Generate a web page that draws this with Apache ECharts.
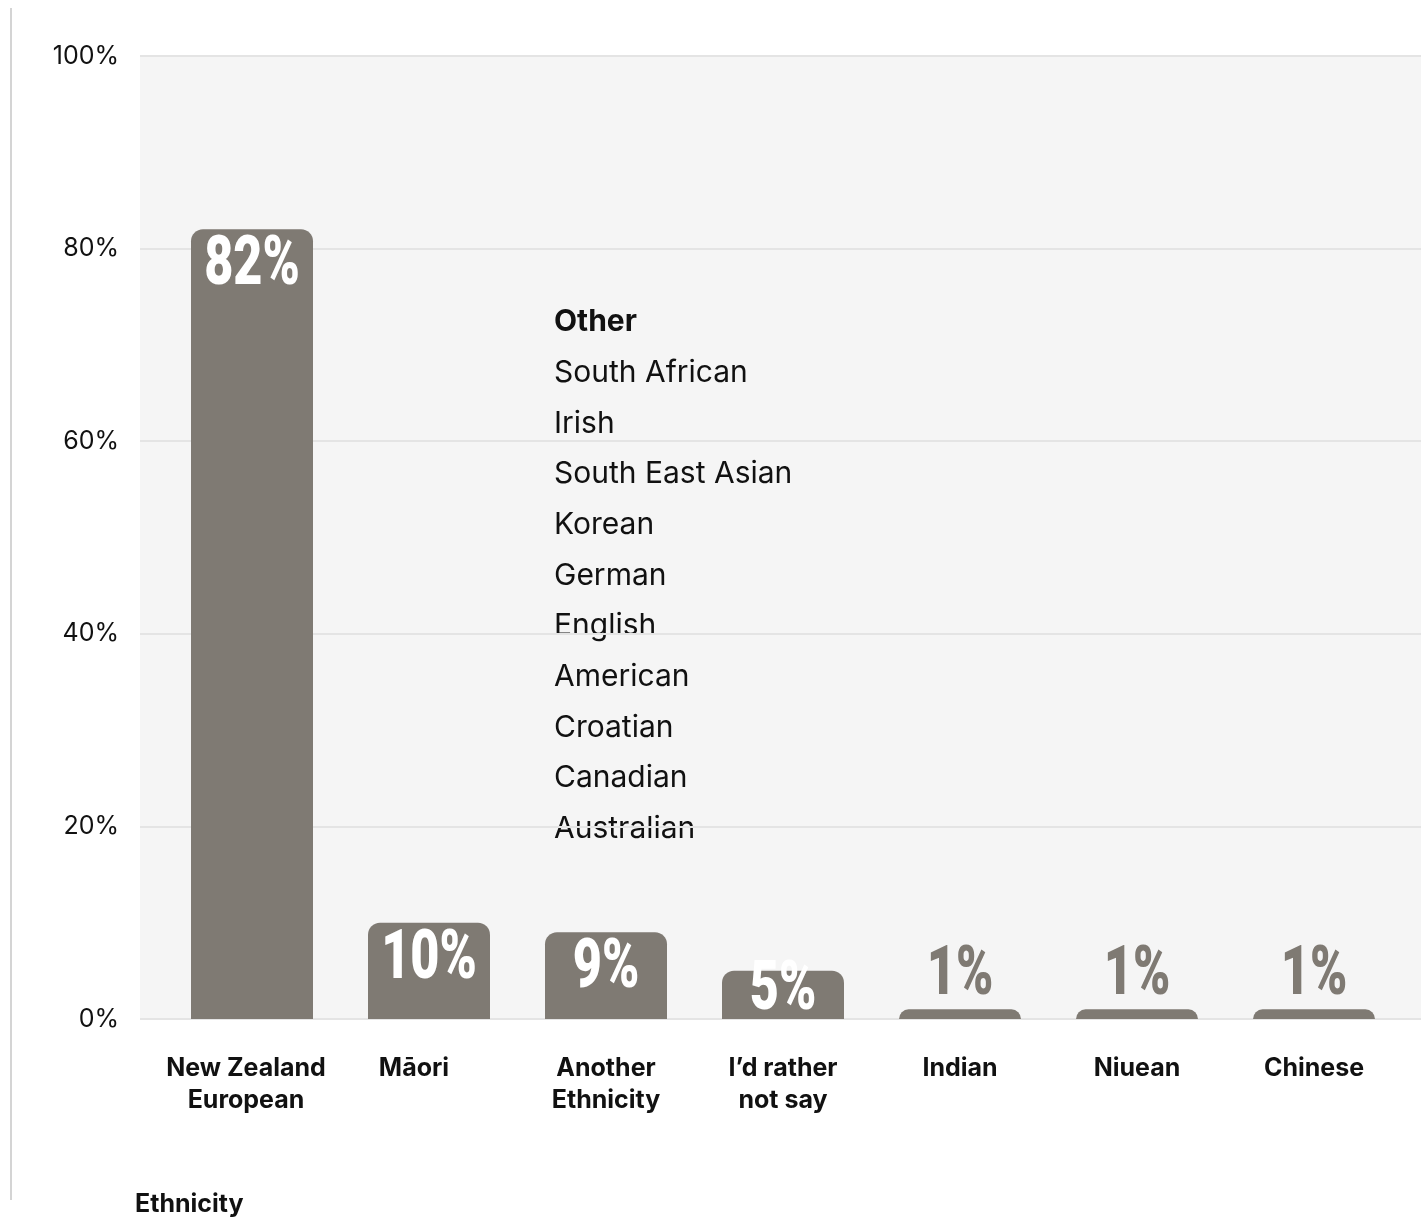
<!DOCTYPE html>
<html>
<head>
<meta charset="utf-8">
<script src="https://cdn.jsdelivr.net/npm/echarts@6/dist/echarts.min.js"></script>
<style>
  html, body { margin: 0; padding: 0; background: #ffffff; }
  #chart { width: 1421px; height: 1218px; }
</style>
</head>
<body>
<div id="chart"></div>
<script>
// Ethnicity breakdown (share of respondents, %)
const categories = ['New Zealand\nEuropean', 'Māori', 'Another\nEthnicity', 'I’d rather\nnot say', 'Indian', 'Niuean', 'Chinese'];
const shares = [82, 10, 9, 5, 1, 1, 1];
const yTicks = [0, 20, 40, 60, 80, 100];
const otherTitle = 'Other';
const otherGroups = ['South African', 'Irish', 'South East Asian', 'Korean', 'German', 'English', 'American', 'Croatian', 'Canadian', 'Australian'];

const BAR = '#7f7a73';
const TEXT = '#111111';
const SANS = 'Inter, "Noto Sans", sans-serif';
const VALUE_FONT = '900 68px Roboto, "Noto Sans", sans-serif';

const chart = echarts.init(document.getElementById('chart'), null, { renderer: 'canvas' });

const otherText = [
  { type: 'text', left: 554, top: 320 - 13, style: { text: otherTitle, font: 'bold 30px ' + SANS, fill: TEXT } }
].concat(otherGroups.map((g, i) => ({
  type: 'text', left: 554, top: 371 + i * 50.65 - 13,
  style: { text: g, font: '30px ' + SANS, fill: TEXT }
})));

// Condensed value labels: tall bars get a white label under the top edge,
// mid-size bars a white label sitting on the baseline, tiny bars a label above.
function renderValueLabel(params, api) {
  const v = api.value(1);
  const top = api.coord([api.value(0), v]);
  const base = api.coord([api.value(0), 0]);
  let y, fill;
  if (v >= 9) {
    y = top[1] + 38; fill = '#ffffff';
  } else if (v >= 3) {
    y = base[1] - 27; fill = '#ffffff';
  } else {
    y = top[1] - 32; fill = BAR;
  }
  return {
    type: 'text',
    x: top[0], y: y,
    scaleX: 0.74,
    style: { text: v + '%', font: VALUE_FONT, fill: fill, align: 'center', verticalAlign: 'middle' }
  };
}

const labelRich = { a: { padding: [0, 12, 0, 0] }, b: { padding: [0, 30, 0, 0] }, n: {} };
const labelTag = ['a', 'b', 'n', 'n', 'n', 'n', 'n'];

chart.setOption({
  animation: false,
  backgroundColor: '#ffffff',
  grid: [
    // background panel + horizontal rules
    { left: 140, right: 0, top: 56, bottom: 199, show: true, backgroundColor: '#f5f5f5', borderWidth: 0 },
    // bars
    { left: 163.5, right: 18.5, top: 56, bottom: 199 }
  ],
  xAxis: [
    { type: 'value', gridIndex: 0, show: false, min: 0, max: 1 },
    {
      type: 'category', gridIndex: 1, data: categories,
      axisLine: { show: false }, axisTick: { show: false },
      axisLabel: {
        interval: 0, margin: 33, color: TEXT, fontFamily: SANS,
        fontWeight: 'bold', fontSize: 25, lineHeight: 32,
        formatter: (val, idx) => val.split('\n').map(s => '{' + labelTag[idx] + '|' + s + '}').join('\n'),
        rich: labelRich
      }
    }
  ],
  yAxis: [
    {
      type: 'value', gridIndex: 0, min: yTicks[0], max: yTicks[yTicks.length - 1], interval: 20,
      axisLine: { show: false }, axisTick: { show: false },
      axisLabel: { margin: 21, color: TEXT, fontFamily: SANS, fontSize: 25, formatter: '{value}%' },
      splitLine: { lineStyle: { color: '#e4e4e4', width: 2 } }
    },
    { type: 'value', gridIndex: 1, min: 0, max: 100, show: false, splitLine: { show: false } }
  ],
  series: [
    {
      type: 'bar', xAxisIndex: 1, yAxisIndex: 1,
      data: shares, barWidth: 122,
      itemStyle: { color: BAR, borderRadius: [12, 12, 0, 0] }
    },
    {
      type: 'custom', xAxisIndex: 1, yAxisIndex: 1,
      data: shares.map((v, i) => [i, v]),
      encode: { x: 0, y: 1 },
      renderItem: renderValueLabel,
      z: 5
    }
  ],
  graphic: [
    { type: 'line', shape: { x1: 11, y1: 8, x2: 11, y2: 1200 }, style: { stroke: '#c6c6c6', lineWidth: 1.5 } },
    { type: 'text', left: 135, top: 1203 - 11, style: { text: 'Ethnicity', font: 'bold 25px ' + SANS, fill: TEXT } }
  ].concat(otherText)
});
</script>
</body>
</html>
